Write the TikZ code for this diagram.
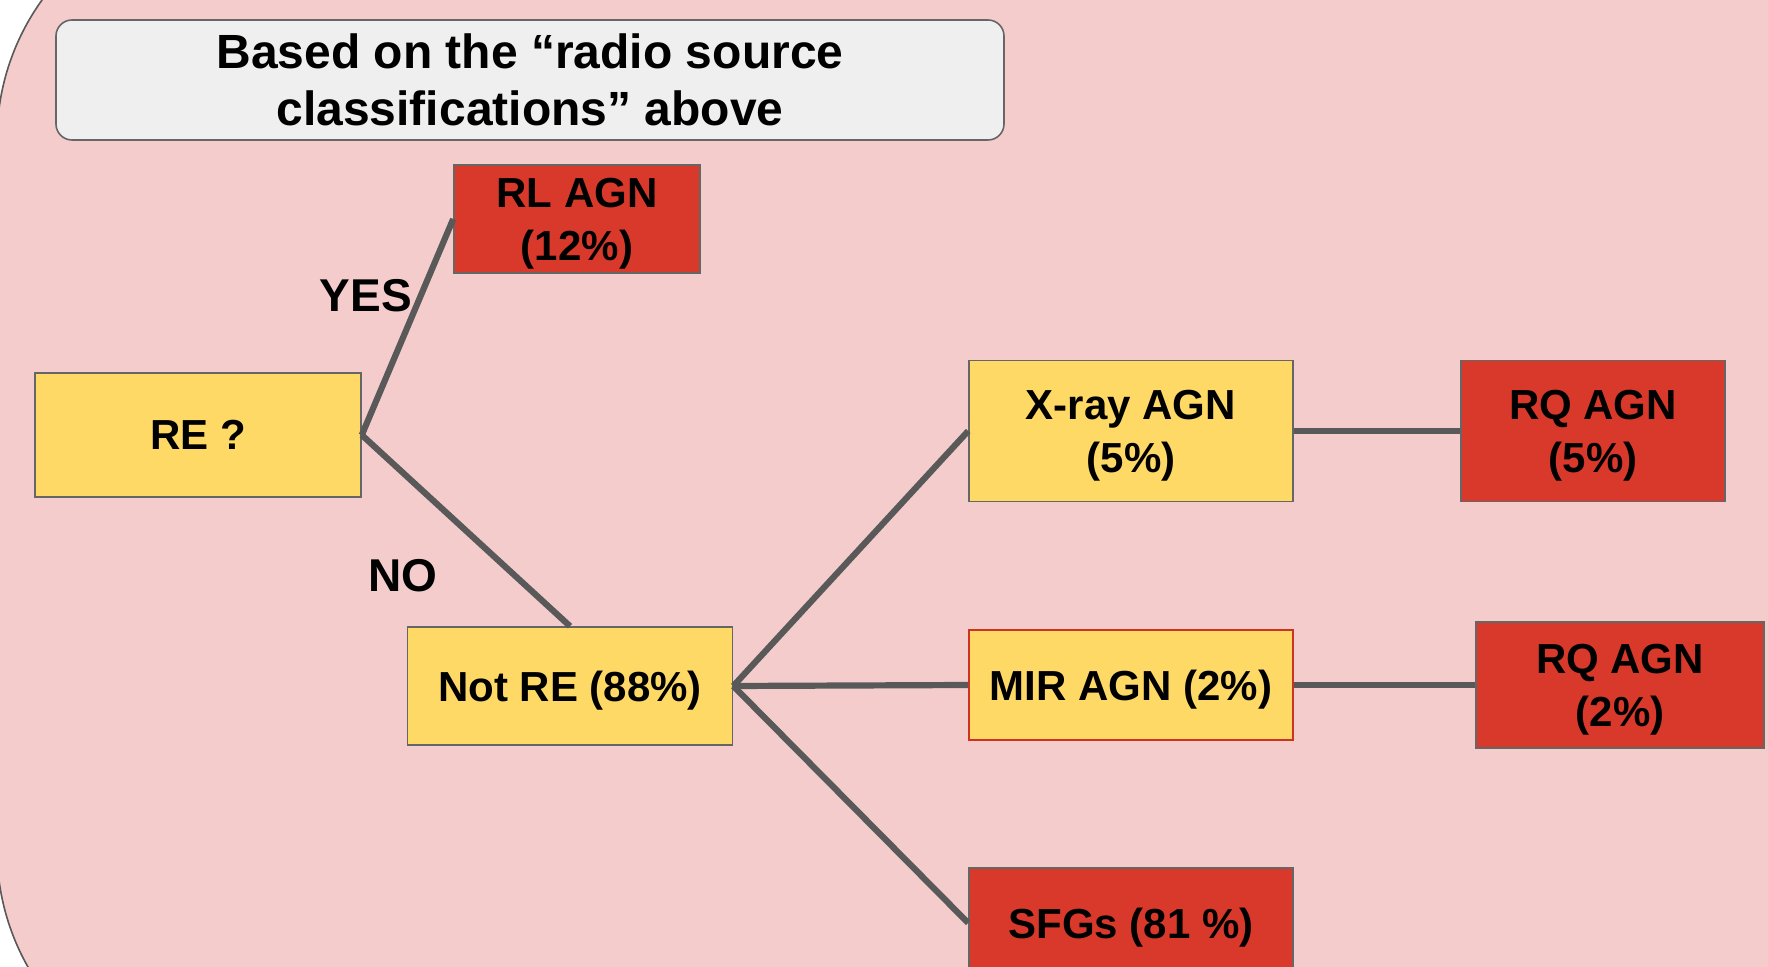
\documentclass[tikz,border=0pt]{standalone}
\usepackage{fontspec}
\setmainfont{Liberation Sans}
\usepackage{tikz}
\usetikzlibrary{calc}
\definecolor{bgpink}{HTML}{F4CCCC}
\definecolor{pastelyellow}{HTML}{FFD966}
\definecolor{alertred}{HTML}{D9392B}
\definecolor{notegray}{HTML}{EFEFEF}
\definecolor{framegray}{HTML}{666666}
\definecolor{linkgray}{HTML}{595959}
\definecolor{mirred}{HTML}{CC3322}
\tikzset{%
  note/.style={rectangle,rounded corners=8pt,draw=framegray,fill=notegray,
    line width=0.8pt,inner sep=0pt,align=center,
    font=\fontsize{24}{28.75}\selectfont\bfseries},
  query/.style={rectangle,draw=framegray,fill=pastelyellow,line width=0.8pt,
    inner sep=0pt,align=center,text depth=0pt,
    font=\fontsize{21}{26.5}\selectfont\bfseries},
  agn/.style={query,fill=alertred},
  answer/.style={inner sep=0pt,font=\fontsize{23}{27}\selectfont\bfseries},
  link/.style={draw=linkgray,line width=3.1pt}
}

\begin{document}
\begin{tikzpicture}[x=0.5pt,y=-0.5pt]
    \useasboundingbox (0,0) rectangle (1768,967);
    \fill [white] (0,0) rectangle (1768,967);
    \begin{scope}
      \clip (0,0) rectangle (1768,967);
      \draw [draw=linkgray,fill=bgpink,line width=0.8pt,rounded corners=120pt]
        (-3,-100) rectangle (1900,1089);
    \end{scope}

    \node [note,minimum width=474pt,minimum height=60pt] (head) at (530,80)
      {Based on the “radio source\\classifications” above};

    \node [query,minimum width=163pt,minimum height=62pt] (re) at (198,435) {RE ?};
    \node [agn,minimum width=123pt,minimum height=54pt] (rl) at (577,219) {RL AGN\\(12\%)};
    \node [query,minimum width=162.5pt,minimum height=59pt] (notre) at (570,686) {Not RE (88\%)};

    \node [query,minimum width=162pt,minimum height=70.5pt] (xray) at (1131,431) {X-ray AGN\\(5\%)};
    \node [query,draw=mirred,minimum width=162pt,minimum height=55pt] (mir) at (1131,685) {MIR AGN (2\%)};
    \node [agn,minimum width=162pt,minimum height=55pt] (sfg) at (1131,923) {SFGs (81 \%)};

    \node [agn,minimum width=132pt,minimum height=70.5pt] (rqx) at (1593,431) {RQ AGN\\(5\%)};
    \node [agn,minimum width=144pt,minimum height=63pt] (rqm) at (1620,685) {RQ AGN\\(2\%)};

    \node [answer] (yes) at (366,296) {YES};
    \node [answer] (no) at (403,576) {NO};

    \path (re.east) edge [link] (rl.west)
                    edge [link] (notre.north);
    \path (notre.east) edge [link] (xray.west)
                       edge [link] (mir.west)
                       edge [link] (sfg.west);
    \path (xray.east) edge [link] (rqx.west);
    \path (mir.east) edge [link] (rqm.west);
  \end{tikzpicture}
\end{document}
